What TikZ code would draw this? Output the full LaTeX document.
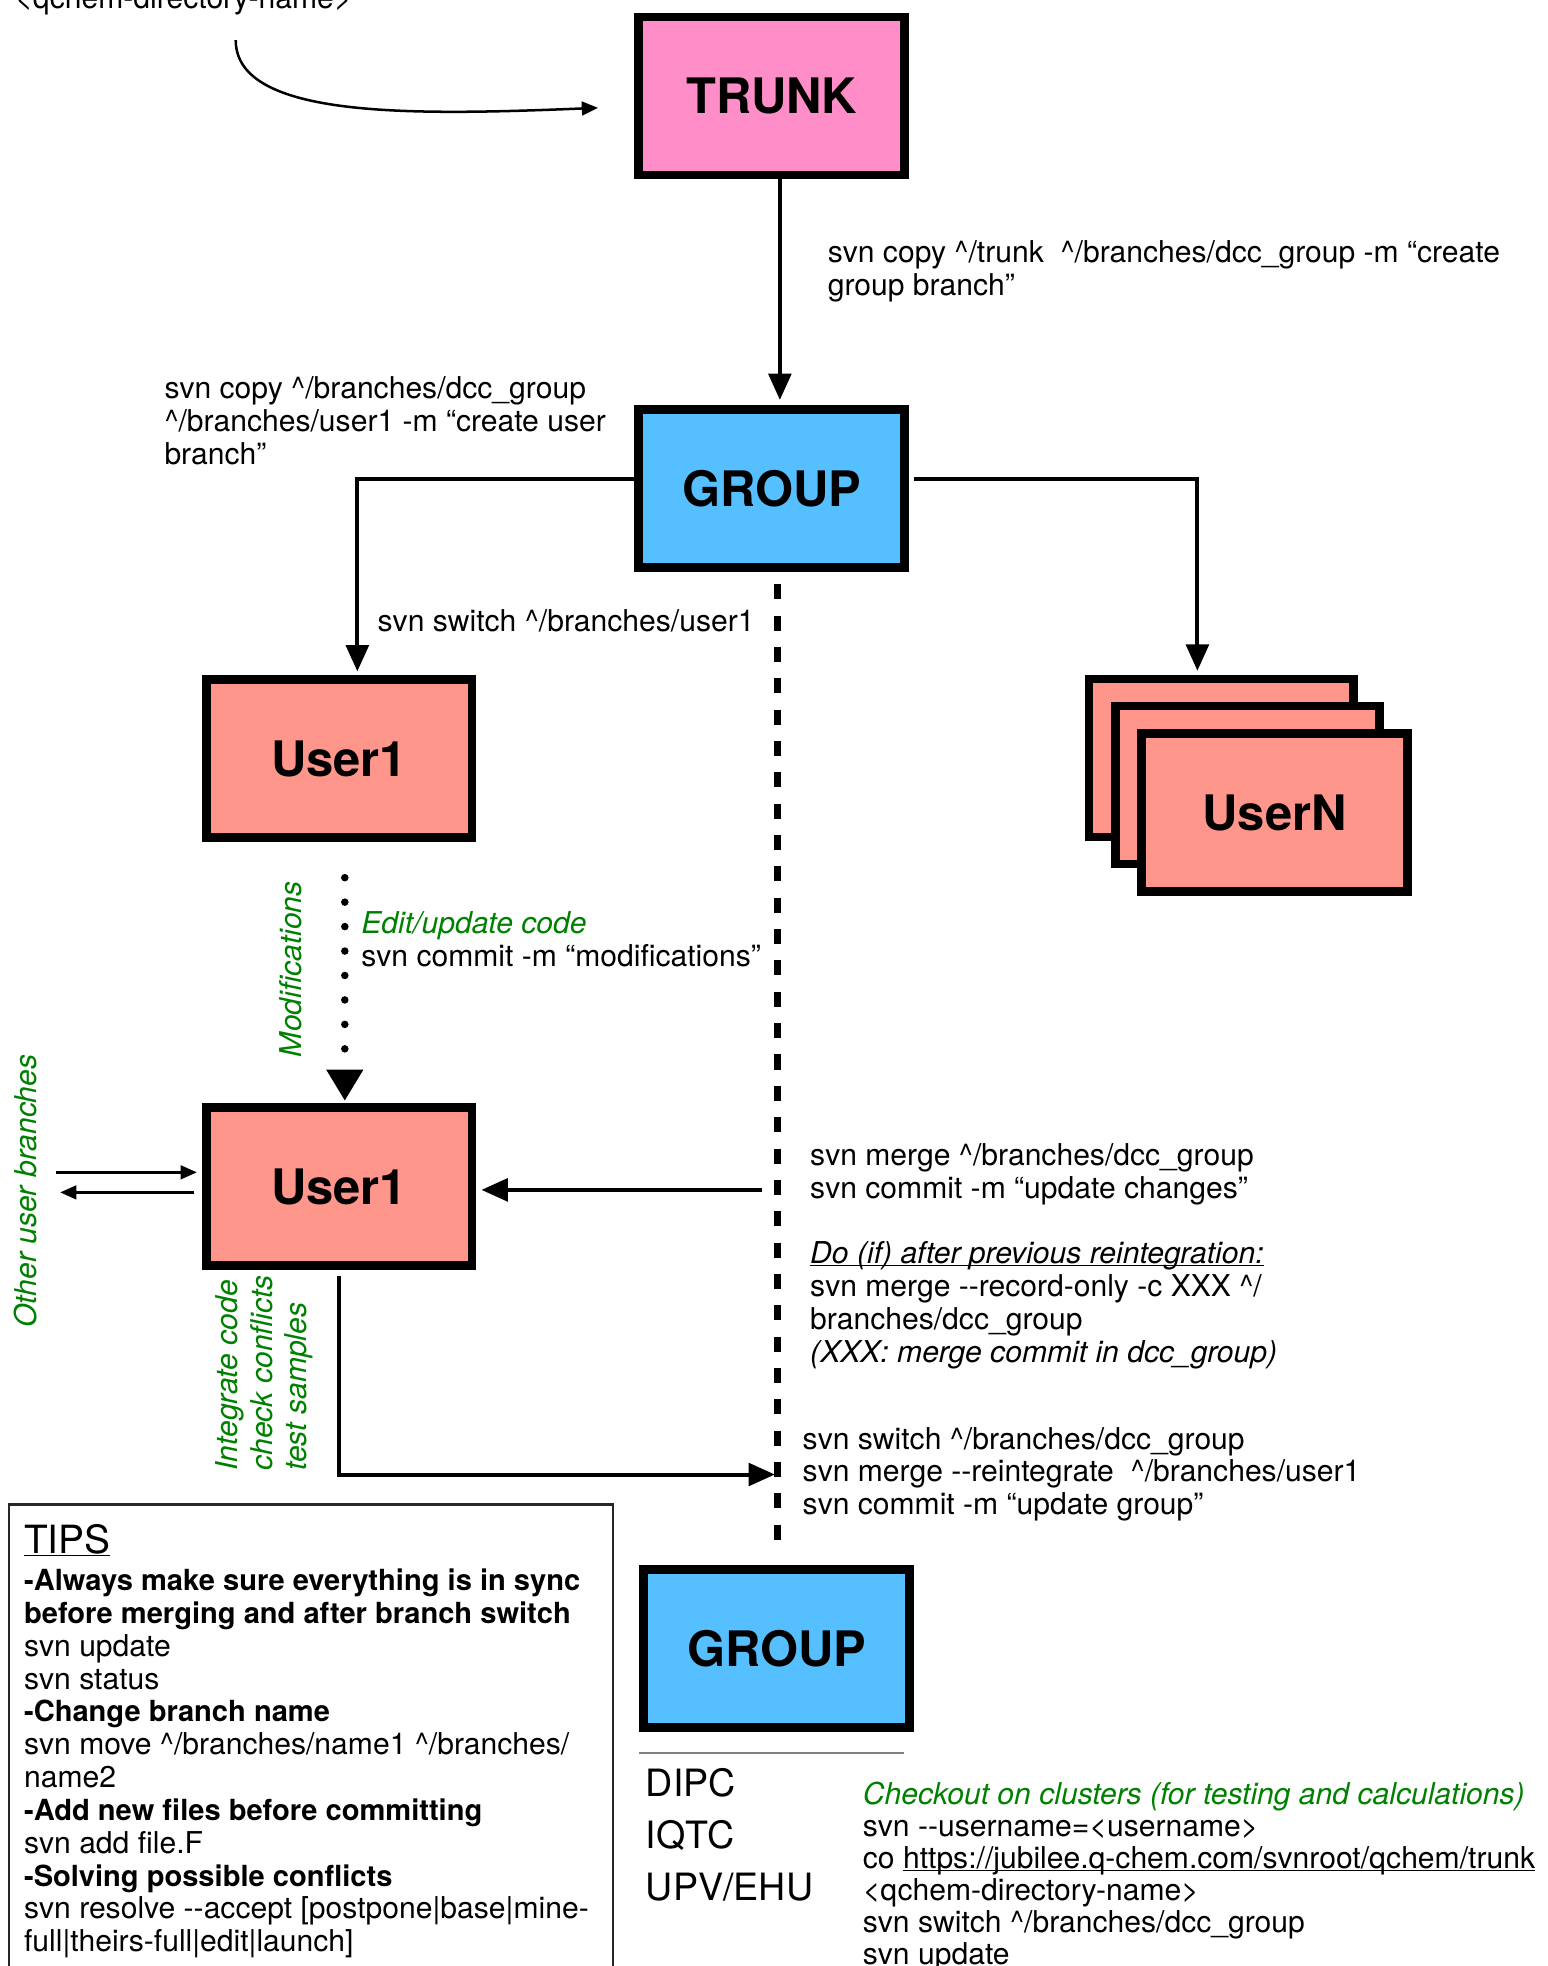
\documentclass[tikz,border=0pt]{standalone}
\usepackage{fontspec}
\setmainfont{TeX Gyre Heros}
\usetikzlibrary{arrows.meta}
\definecolor{trunkpink}{RGB}{255,141,199}
\definecolor{groupblue}{RGB}{86,191,255}
\definecolor{usersalmon}{RGB}{255,150,140}
\definecolor{notegreen}{RGB}{0,128,0}
\newcommand{\crt}{\textasciicircum}
\newcommand{\dd}{-{}-}
\newcommand{\ulin}[1]{\underline{\smash{#1}}\vphantom{#1}}
\newcommand{\bb}[1]{{\fontsize{23.2}{26.2}\selectfont\bfseries #1}}
\begin{document}
\begin{tikzpicture}[x=1pt,y=-1pt,
  box/.style={draw=black, line width=7pt, minimum width=212pt, minimum height=126pt, inner sep=0pt, font=\fontsize{39}{40}\selectfont\bfseries},
  txt/.style={inner sep=0pt, anchor=north west, align=left, font=\fontsize{24}{26.2}\selectfont},
  grn/.style={inner sep=0pt, text=notegreen, font=\fontsize{24}{26}\selectfont\itshape},
  arr/.style={line width=3.2pt, -{Triangle[length=21pt,width=18pt]}},
  arrs/.style={line width=2pt, -{Triangle[length=13pt,width=11pt]}},
  dotline/.style={line width=6pt, line cap=round, dash pattern=on 0pt off 19.5pt, -{Triangle[length=25pt,width=28pt]}},
  dashline/.style={line width=6pt, dash pattern=on 12pt off 13pt}]
\useasboundingbox (0,0) rectangle (1234,1568);

% boxes
\node[box, fill=trunkpink] (trunk) at (615.5,76.5) {TRUNK};
\node[box, fill=groupblue] (group1) at (615.5,389.5) {GROUP};
\node[box, fill=usersalmon] (user1a) at (270.5,605) {User1};
\node[box, fill=usersalmon] (user1b) at (270.5,946.5) {User1};
\node[box, fill=groupblue] (group2) at (619.5,1315) {GROUP};
\node[box, fill=usersalmon, minimum width=211pt] (userNback) at (974,604.5) {};
\node[box, fill=usersalmon, minimum width=211pt] (userNmid) at (995,626) {};
\node[box, fill=usersalmon] (userN) at (1016.5,648) {UserN};

% free ends
\coordinate (c0) at (188,32);
\coordinate (c1) at (477,86);
\coordinate (d0) at (275,700);
\coordinate (dtop) at (620,466);
\coordinate (dbot) at (620,1237);
\coordinate (m1) at (608,949);
\coordinate (o1) at (45,935);
\coordinate (o2) at (48,951);
\coordinate (r1) at (618,1176);
\path (user1b.west |- o2) ++(-6,0) coordinate (o2s);

% connectors
\draw[line width=2pt, -{Triangle[length=13pt,width=11pt]}] (c0) .. controls (188,95) and (330,92) .. (c1);
\draw[arr, shorten >=4pt] ([xshift=6.5pt]trunk.south) -- ([xshift=6.5pt]group1.north);
\draw[arr, shorten >=3pt] ([yshift=7.5pt]group1.west) -| ([xshift=14.5pt]user1a.north);
\draw[arr, shorten >=3pt] ([yshift=7.5pt,xshift=4pt]group1.east) -| ([xshift=-19pt]userNback.north);
\draw[dotline, shorten >=2pt] (d0) -- ([xshift=4.5pt]user1b.north);
\draw[dashline] (dtop) -- (dbot);
\draw[arr, shorten >=4pt] (m1) -- (user1b.east |- m1);
\draw[arrs, shorten >=4pt] (o1) -- (user1b.west |- o1);
\draw[arrs] (o2s) -- (o2);
\draw[arr] ([yshift=-5pt]user1b.south) |- (r1);

% separator under bottom group
\draw[gray, line width=1.5pt] (510,1398) -- (721,1398);

% tips frame
\draw[black!85, line width=1.8pt] (7,1200) rectangle (489,1640);

% texts
\node[txt, anchor=base west] (qdir) at (12,7) {<qchem-directory-name>};
\node[txt] (lbl1) at (660,192) {svn copy \crt/trunk~ \crt/branches/dcc\_group -m “create\\group branch”};
\node[txt] (lbl2) at (131,300) {svn copy \crt/branches/dcc\_group\\\crt/branches/user1 -m “create user\\branch”};
\node[txt] (lbl3) at (301,486) {svn switch \crt/branches/user1};
\node[txt] (lbl4) at (288,727) {{\color{notegreen}\itshape Edit/update code}\\svn commit -m “modifications”};
\node[txt] (lbl5) at (646,912) {svn merge \crt/branches/dcc\_group\\svn commit -m “update changes”};
\node[txt] (lbl6) at (646,990) {\ulin{\textit{Do (if) after previous reintegration:}}\\svn merge \dd record-only -c XXX \crt/\\branches/dcc\_group\\\textit{(XXX: merge commit in dcc\_group)}};
\node[txt] (lbl7) at (640,1138) {svn switch \crt/branches/dcc\_group\\svn merge \dd reintegrate~ \crt/branches/user1\\svn commit -m “update group”};
\node[txt, font=\fontsize{30}{41.5}\selectfont] (inst) at (515,1410) {DIPC\\IQTC\\UPV/EHU};
\node[txt, font=\fontsize{24}{25.6}\selectfont] (checkout) at (688,1421) {{\color{notegreen}\itshape Checkout on clusters (for testing and calculations)}\\svn \dd username=<username>\\co \ulin{https://jubilee.q-chem.com/svnroot/qchem/trunk}\\<qchem-directory-name>\\svn switch \crt/branches/dcc\_group\\svn update};
\node[txt, font=\fontsize{31}{34}\selectfont] (tipsT) at (19,1216) {\ulin{TIPS}};
\node[txt] (tips) at (19,1251) {\bb{-Always make sure everything is in sync}\\\bb{before merging and after branch switch}\\svn update\\svn status\\\bb{-Change branch name}\\svn move \crt/branches/name1 \crt/branches/\\name2\\\bb{-Add new files before committing}\\svn add file.F\\\bb{-Solving possible conflicts}\\svn resolve \dd accept [postpone|base|mine-\\full|theirs-full|edit|launch]};

\node[grn, rotate=90] (mods) at (232,773) {Modifications};
\node[grn, rotate=90] (other) at (20,950) {Other user branches};
\node[grn, rotate=90, anchor=west, align=left, font=\fontsize{24}{27.5}\selectfont\itshape] (integ) at (211,1173) {Integrate code\\check conflicts\\test samples};
\end{tikzpicture}
\end{document}
